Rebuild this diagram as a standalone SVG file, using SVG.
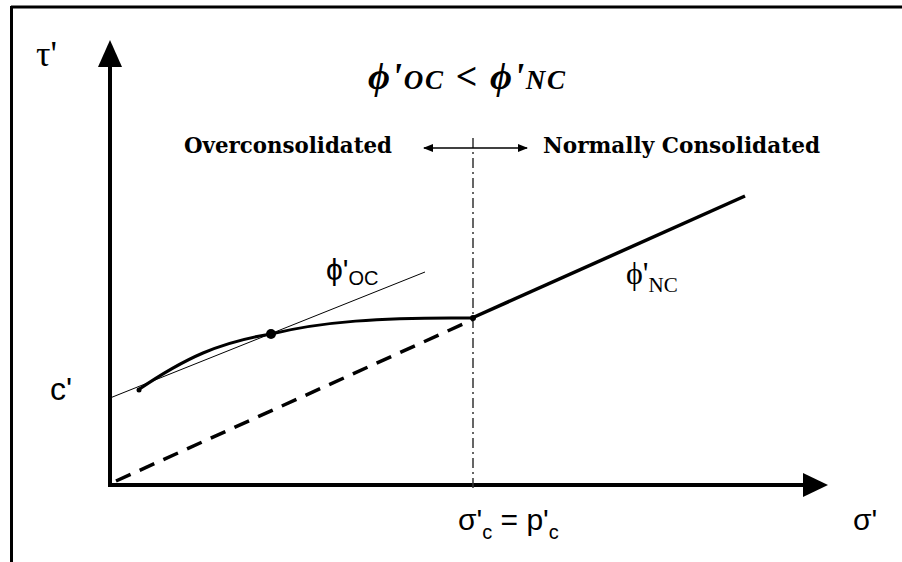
<svg xmlns="http://www.w3.org/2000/svg" width="902" height="562" viewBox="0 0 902 562">
<style>
.sans{font-family:"Liberation Sans",Arial,sans-serif;fill:#000}
.serif{font-family:"Liberation Serif","Times New Roman",serif;fill:#000}
.hdr{font-family:"DejaVu Serif","Liberation Serif",serif;font-weight:bold;font-size:22px;fill:#000}
.title{font-family:"Liberation Serif","Times New Roman",serif;font-weight:bold;font-style:italic;fill:#000}
.axis{stroke:#000;stroke-width:4;fill:none}
</style>
<defs>
<marker id="ah" viewBox="0 0 10 10" refX="9" refY="5" markerWidth="10" markerHeight="10" orient="auto-start-reverse" markerUnits="userSpaceOnUse">
<path d="M0,1 L10,5 L0,9 Z" fill="#000"/>
</marker>
</defs>
<rect width="902" height="562" fill="#fff"/>
<g id="frame">
<line x1="11" y1="7" x2="902" y2="7" stroke="#000" stroke-width="3"/>
<line x1="11.5" y1="6" x2="11.5" y2="562" stroke="#000" stroke-width="3"/>
</g>
<g id="axes">
<line class="axis" x1="110" y1="487" x2="110" y2="62"/>
<path d="M110,40 L122,67 L98,67 Z" fill="#000"/>
<line class="axis" x1="108" y1="485" x2="808" y2="485"/>
<path d="M828,485 L803,473 L803,497 Z" fill="#000"/>
</g>
<g id="connectors">
<line x1="473" y1="138" x2="473" y2="492" stroke="#333" stroke-width="1.5" stroke-dasharray="10,4,2,4"/>
<line x1="424" y1="148" x2="527" y2="148" stroke="#000" stroke-width="1.5" marker-start="url(#ah)" marker-end="url(#ah)"/>
<line x1="110" y1="398" x2="425" y2="272" stroke="#000" stroke-width="1"/>
<line x1="116" y1="481" x2="472" y2="320" stroke="#000" stroke-width="3.5" stroke-dasharray="16,10"/>
<path d="M138,390 C185,358 220,342 271,334 C320,322 380,317 473,318" fill="none" stroke="#000" stroke-width="3"/>
<line x1="472" y1="318" x2="745" y2="196" stroke="#000" stroke-width="3.5"/>
<circle cx="271" cy="334" r="5" fill="#000"/>
<circle cx="139" cy="390" r="2.5" fill="#000"/>
<circle cx="473" cy="318" r="3" fill="#000"/>
</g>
<g id="labels">
<text class="serif" x="36" y="66" font-size="36">τ'</text>
<text class="title" x="368" y="89" font-size="38" textLength="197" lengthAdjust="spacing">ϕ'<tspan font-size="27">OC</tspan> &lt; ϕ'<tspan font-size="27">NC</tspan></text>
<text class="hdr" x="184" y="153" textLength="208" lengthAdjust="spacingAndGlyphs">Overconsolidated</text>
<text class="hdr" x="543" y="153" textLength="277" lengthAdjust="spacingAndGlyphs">Normally Consolidated</text>
<text class="sans" x="326" y="280" font-size="30">ϕ'<tspan font-size="20" dy="5">OC</tspan></text>
<text class="serif" x="626" y="284" font-size="32">ϕ'<tspan font-size="21" dy="8">NC</tspan></text>
<text class="sans" x="50" y="400" font-size="32">c'</text>
<text class="sans" x="458" y="530" font-size="30">σ'<tspan font-size="20" dy="9">c</tspan><tspan dy="-9"> = p'</tspan><tspan font-size="20" dy="9">c</tspan></text>
<text class="sans" x="853" y="530" font-size="30">σ'</text>
</g>
</svg>
